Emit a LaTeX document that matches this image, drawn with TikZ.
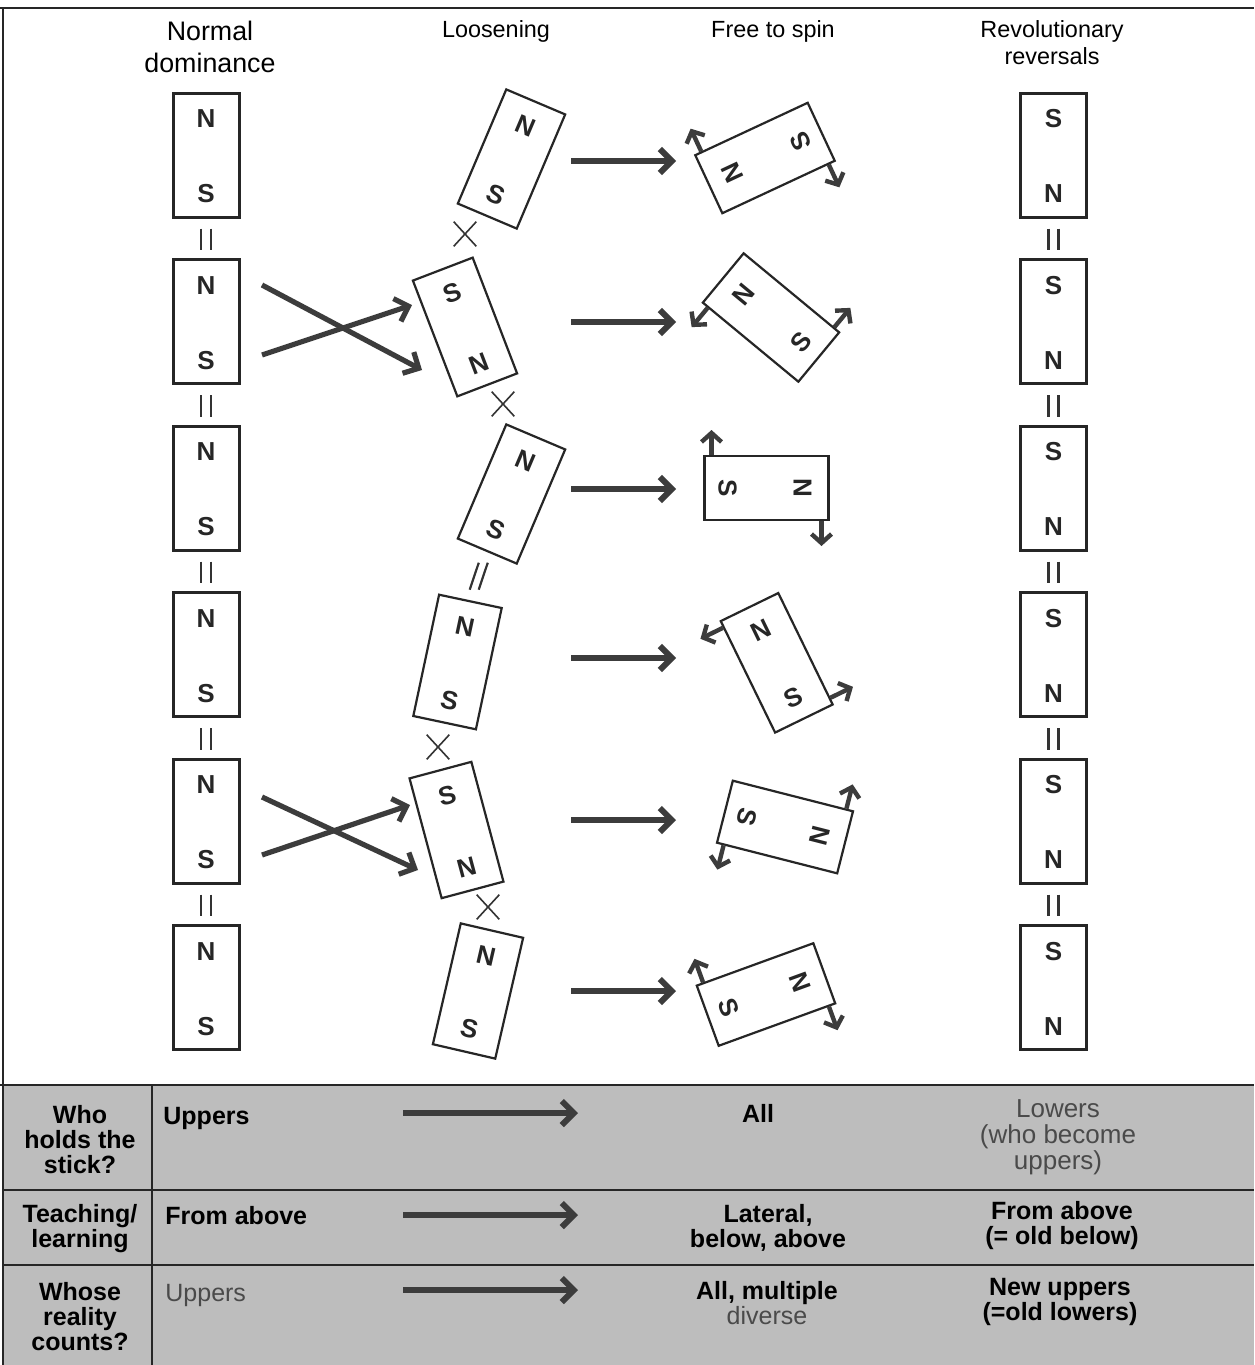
\documentclass[tikz,border=0pt]{standalone}
\usepackage{fontspec}
\setmainfont{Liberation Sans}
\usetikzlibrary{arrows.meta,calc,shapes.misc}
\definecolor{ink}{HTML}{3C3C3C}
\definecolor{tgray}{HTML}{BDBDBD}
\definecolor{soft}{HTML}{4A4A4A}
\newcommand\magnet[7]{%
 \begin{scope}[shift={(#2,#3)},rotate=#4]
 \node[#5] (#1) at (0,0) {};
 \node[pole] (#1-t) at (0,36) {#6};
 \node[pole] (#1-b) at (0,-39) {#7};
 \end{scope}}
\newcommand\freemag[5]{%
 \begin{scope}[shift={(#2,#3)},rotate=#4]
 \node[loosemag] (#1) at (0,0) {};
 \node[pole] (#1-t) at (0,36) {N};
 \node[pole] (#1-b) at (0,-39) {S};
 \coordinate (#1-p) at ({#5},55);
 \coordinate (#1-q) at ({-(#5)},-55);
 \draw[spinarrow] (#1-p) -- ++({#5*25/33},0);
 \draw[spinarrow] (#1-q) -- ++({-(#5)*25/33},0);
 \end{scope}}
\begin{document}
\begin{tikzpicture}[x=0.5pt,y=0.5pt,
 fixedmag/.style={draw=black!85,line width=1.5pt,minimum width=33pt,minimum height=62pt,inner sep=0pt,transform shape},
 loosemag/.style={draw=black!85,line width=1.1pt,minimum width=32pt,minimum height=62pt,inner sep=0pt,transform shape},
 pole/.style={font=\bfseries\fontsize{13}{13}\selectfont,inner sep=0pt,transform shape,text=black!85},
 head/.style={font=\fontsize{11.7}{13.5}\selectfont,align=center,inner sep=0pt},
 bigarrow/.style={draw=ink,line width=3pt,-{Straight Barb[length=6pt 0,width=12pt 0]}},
 crossarrow/.style={draw=ink,line width=2.6pt,-{Straight Barb[length=6pt 0,width=12pt 0]}},
 spinarrow/.style={draw=ink,line width=2.2pt,-{Straight Barb[length=4.5pt 0,width=10pt 0]}},
 eqline/.style={draw=black!80,line width=1.1pt},
 xmark/.style={draw=black!80,cross out,line width=0.8pt,minimum width=10.5pt,minimum height=11.5pt,inner sep=0pt},
 tlabel/.style={font=\bfseries\fontsize{12.5}{12.5}\selectfont,align=center,inner sep=0pt},
 tbold/.style={font=\bfseries\fontsize{12.5}{12.5}\selectfont,align=center,inner sep=0pt},
 tsoft/.style={font=\fontsize{13}{13}\selectfont,align=center,inner sep=0pt,text=soft},
 rule/.style={draw=black!85,line width=1pt}
]
\useasboundingbox (0,0) rectangle (1254,-1365);
\fill[white] (0,0) rectangle (1254,-1365);
% frame
\draw[rule] (0,-8) -- (1254,-8);
\draw[rule] (3,-8) -- (3,-1365);
% headers
\node[head,font=\fontsize{13.4}{16}\selectfont] (h1) at (210,-47) {Normal\\dominance};
\node[head,anchor=base] (h2) at (496,-38) {Loosening};
\node[head,anchor=base] (h3) at (773,-38) {Free to spin};
\node[head] (h4) at (1052,-43) {Revolutionary\\reversals};
% column 1: normal dominance
\magnet{A1}{206}{-155}{0}{fixedmag}{N}{S}
\magnet{A2}{206}{-321.5}{0}{fixedmag}{N}{S}
\magnet{A3}{206}{-488}{0}{fixedmag}{N}{S}
\magnet{A4}{206}{-654.5}{0}{fixedmag}{N}{S}
\magnet{A5}{206}{-821}{0}{fixedmag}{N}{S}
\magnet{A6}{206}{-987.5}{0}{fixedmag}{N}{S}
% column 4: revolutionary reversals
\magnet{R1}{1053.5}{-155}{0}{fixedmag}{S}{N}
\magnet{R2}{1053.5}{-321.5}{0}{fixedmag}{S}{N}
\magnet{R3}{1053.5}{-488}{0}{fixedmag}{S}{N}
\magnet{R4}{1053.5}{-654.5}{0}{fixedmag}{S}{N}
\magnet{R5}{1053.5}{-821}{0}{fixedmag}{S}{N}
\magnet{R6}{1053.5}{-987.5}{0}{fixedmag}{S}{N}
\foreach \a/\b in {A1/A2,A2/A3,A3/A4,A4/A5,A5/A6,R1/R2,R2/R3,R3/R4,R4/R5,R5/R6}{
 \draw[eqline] ($(\a.south)+(-5,-10)$) -- ($(\b.north)+(-5,8)$);
 \draw[eqline] ($(\a.south)+(5,-10)$) -- ($(\b.north)+(5,8)$);
}
% column 2: loosening
\magnet{L1}{511.5}{-159}{-23}{loosemag}{N}{S}
\magnet{L2}{465}{-327}{21}{loosemag}{S}{N}
\magnet{L3}{511.5}{-494}{-23}{loosemag}{N}{S}
\magnet{L4}{457.5}{-662}{-12}{loosemag}{N}{S}
\magnet{L5}{456.5}{-830}{15}{loosemag}{S}{N}
\magnet{L6}{478}{-991}{-13}{loosemag}{N}{S}
\node[xmark] (x1) at (465,-234) {};
\node[xmark] (x2) at (503,-404) {};
\node[xmark] (x3) at (438,-747) {};
\node[xmark] (x4) at (488,-907) {};
\draw[eqline] ($(L3.south)!0.22!(L4.north)+(4.5,0)$) -- ($(L3.south)!0.78!(L4.north)+(4.5,0)$);
\draw[eqline] ($(L3.south)!0.22!(L4.north)+(-4.5,0)$) -- ($(L3.south)!0.78!(L4.north)+(-4.5,0)$);
% crossing arrows
\coordinate (c1a) at (262,-285); \coordinate (c1b) at (422,-370);
\coordinate (c2a) at (262,-355); \coordinate (c2b) at (412,-305);
\coordinate (c3a) at (262,-797); \coordinate (c3b) at (418,-870);
\coordinate (c4a) at (262,-855); \coordinate (c4b) at (410,-805);
\draw[crossarrow] (c1a) -- (c1b);
\draw[crossarrow] (c2a) -- (c2b);
\draw[crossarrow] (c3a) -- (c3b);
\draw[crossarrow] (c4a) -- (c4b);
% horizontal arrows
\foreach \i/\y in {1/161,2/322,3/489,4/658,5/820,6/991}{
 \coordinate (g\i s) at (571,-\y);
 \coordinate (g\i e) at (676,-\y);
 \draw[bigarrow] (g\i s) -- (g\i e);
}
% column 3: free to spin
\freemag{F1}{765}{-158}{115}{33}
\freemag{F2}{771}{-317.5}{50.4}{-33}
\freemag{F3}{766.5}{-488}{-90}{33}
\freemag{F4}{776.7}{-662.8}{26}{-33}
\freemag{F5}{785}{-827}{-104.3}{-33}
\freemag{F6}{766}{-994.5}{-70}{33}
% table
\fill[tgray] (3,-1085) rectangle (1254,-1365);
\draw[rule,line width=1.2pt] (0,-1085) -- (1254,-1085);
\draw[rule,line width=1.2pt] (3,-1190) -- (1254,-1190);
\draw[rule,line width=1.2pt] (3,-1265) -- (1254,-1265);
\draw[rule,line width=1.2pt] (152,-1085) -- (152,-1365);
\draw[rule] (3,-1085) -- (3,-1365);
% row 1
\node[tlabel] (r1) at (80,-1140) {Who\\holds the\\stick?};
\node[tbold,anchor=base west] (r1a) at (163,-1124) {Uppers};
\coordinate (t1s) at (403,-1113); \coordinate (t1e) at (578,-1113);
\draw[bigarrow] (t1s) -- (t1e);
\node[tbold,anchor=base] (r1b) at (758,-1122) {All};
\node[tsoft] (r1c) at (1058,-1137) {Lowers\\(who become\\uppers)};
% row 2
\node[tlabel] (r2) at (80,-1229) {Teaching/\\learning};
\node[tbold,anchor=base west] (r2a) at (165,-1224) {From above};
\coordinate (t2s) at (403,-1215); \coordinate (t2e) at (578,-1215);
\draw[bigarrow] (t2s) -- (t2e);
\node[tbold] (r2b) at (768,-1228) {Lateral,\\below, above};
\node[tbold] (r2c) at (1062,-1226) {From above\\(= old below)};
% row 3
\node[tlabel] (r3) at (80,-1317) {Whose\\reality\\counts?};
\node[tsoft,font=\fontsize{12.5}{12.5}\selectfont,anchor=base west] (r3a) at (165,-1301) {Uppers};
\coordinate (t3s) at (403,-1290); \coordinate (t3e) at (578,-1290);
\draw[bigarrow] (t3s) -- (t3e);
\node[tbold] (r3b) at (767,-1303) {All, multiple\\{\mdseries\color{soft}diverse}};
\node[tbold] (r3c) at (1060,-1302) {New uppers\\(=old lowers)};
\end{tikzpicture}
\end{document}
